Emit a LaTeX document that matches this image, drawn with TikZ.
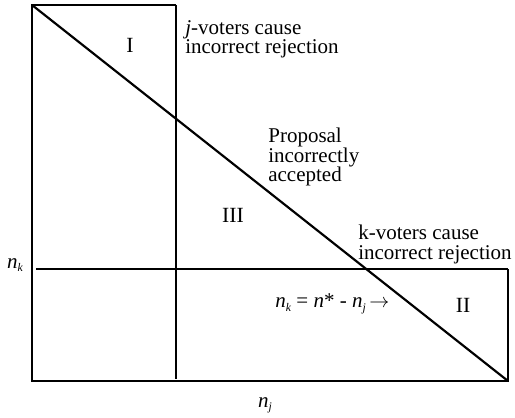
\documentclass[tikz,border=0pt]{standalone}
\usepackage{fontspec}
\setmainfont{Liberation Serif}
\usetikzlibrary{positioning}

\newcommand{\sub}[1]{\raisebox{-0.35ex}{\fontsize{7}{7}\selectfont\textit{#1}}}

\begin{document}
\begin{tikzpicture}[x=0.6pt,y=0.6pt,
	axis/.style={line width=0.9pt},
	bound/.style={line width=1.3pt},
	lbl/.style={font=\fontsize{12.6}{11.6}\selectfont, align=left, inner sep=0pt},
	region/.style={font=\fontsize{13}{13}\selectfont, inner sep=0pt}
	]
	\useasboundingbox (0,0) rectangle (515,417);
	% corners of the region
	\coordinate (tl) at (32,412);
	\coordinate (orig) at (32,36);
	\coordinate (br) at (508,36);
	\coordinate (jtop) at (176,412);
	\coordinate (jbot) at (176,38);
	\coordinate (kleft) at (36,148);
	\coordinate (kright) at (508,148);

	\draw[axis] (jtop) -- (tl) -- (orig) -- (br) -- (kright);
	\draw[bound] (jtop) -- (jbot);
	\draw[bound] (kleft) -- (kright);
	\draw[bound] (tl) -- (br);

	% regions
	\node[region] (r1) at (130,372) {I};
	\node[region] (r3) at (233,202) {III};
	\node[region] (r2) at (463,112) {II};

	% labels
	\node[lbl, anchor=north west] (jvot) at (185,397) {\textit{j}-voters cause\\incorrect rejection};
	\node[lbl, anchor=north west] (prop) at (268,289) {Proposal\\incorrectly\\accepted};
	\node[lbl, anchor=north west] (kvot) at (358,192) {k-voters cause\\incorrect rejection};
	\node[lbl, anchor=west] (eq) at (275,113) {\textit{n}\sub{k} = \textit{n}* - \textit{n}\sub{j}\,$\rightarrow$};

	% axis names
	\node[lbl] (nk) at (15,152) {\textit{n}\sub{k}};
	\node[lbl] (nj) at (265,12) {\textit{n}\sub{j}};
\end{tikzpicture}
\end{document}
